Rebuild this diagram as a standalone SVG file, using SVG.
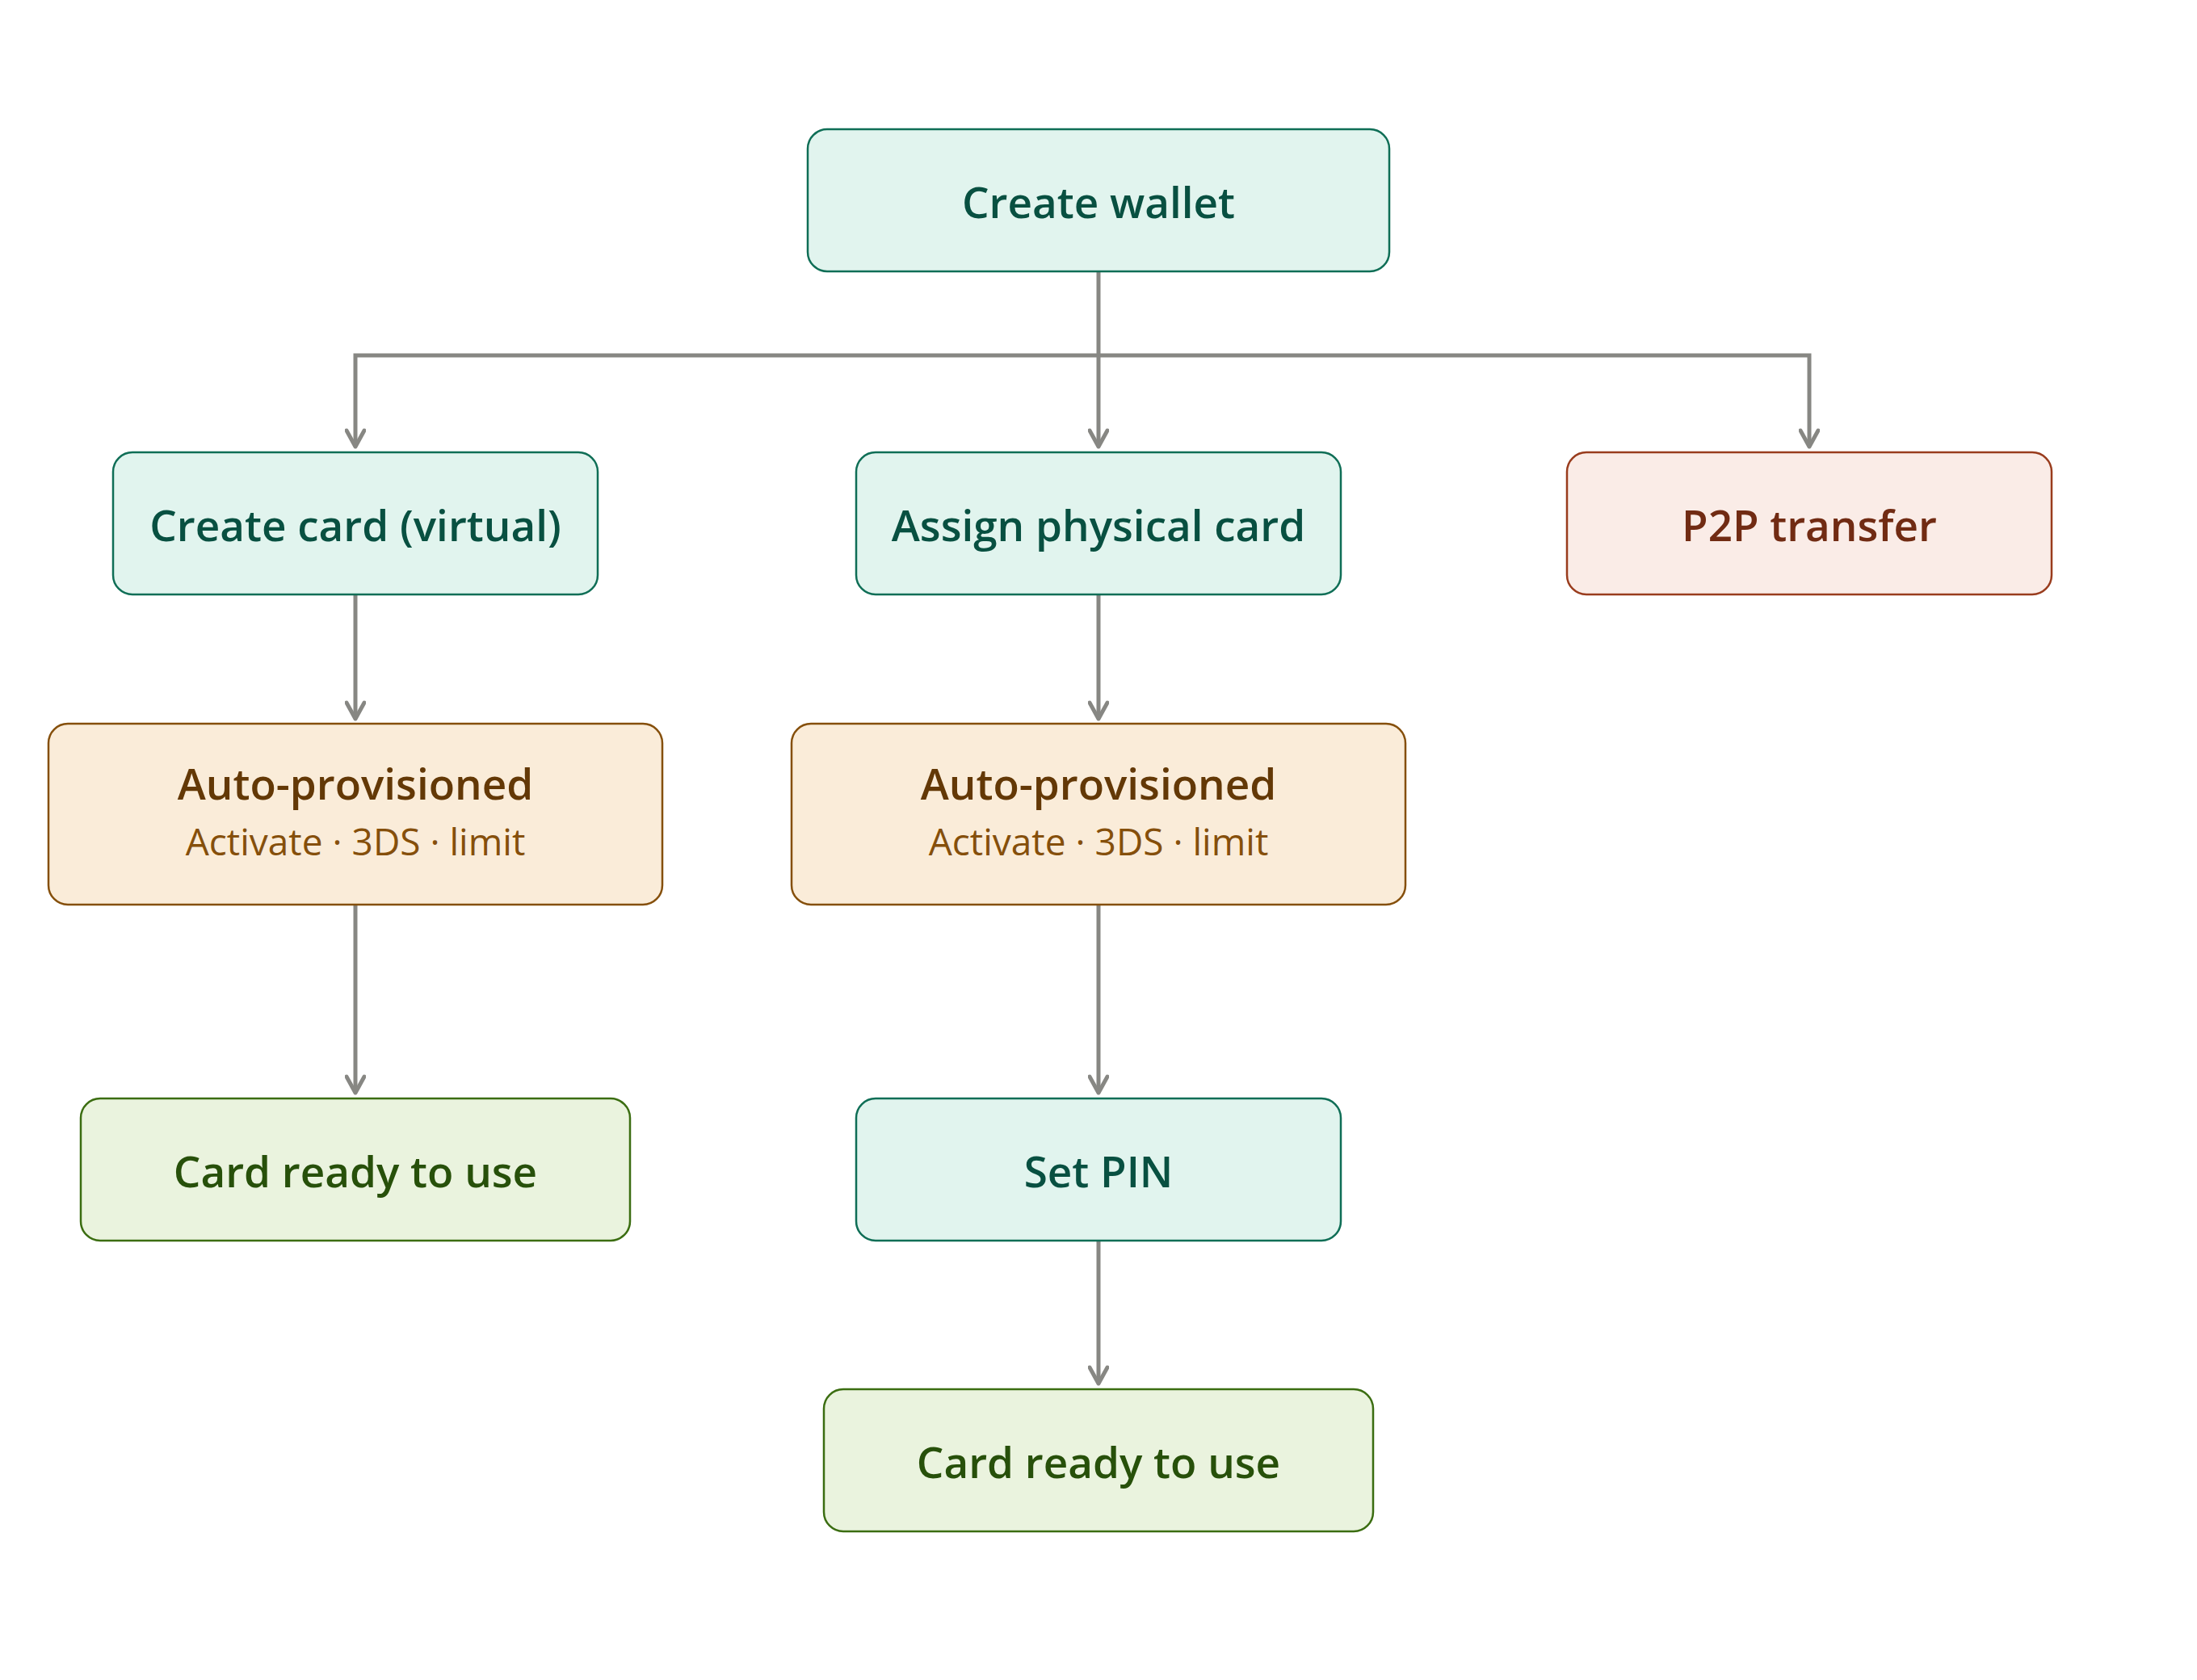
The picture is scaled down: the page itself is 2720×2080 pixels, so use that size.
<svg xmlns="http://www.w3.org/2000/svg" width="2720" height="2080" viewBox="0 0 2720 2080">
<style>
.box{stroke-width:2.5}
.teal{fill:#e1f4ee;stroke:#0f6e56}
.tealt{fill:#085041}
.orange{fill:#faecd9;stroke:#854f0b}
.oranget{fill:#633806}
.oranges{fill:#854f0b}
.green{fill:#eaf3de;stroke:#3b6d11}
.greent{fill:#27500a}
.red{fill:#faece7;stroke:#993c1d}
.redt{fill:#712b13}
text{font-family:"Open Sans","Noto Sans","Liberation Sans",sans-serif;text-anchor:middle}
.t{font-size:53px;font-weight:600}
.s{font-size:46px;font-weight:400}
.c{fill:none;stroke:#878783;stroke-width:5}
</style>
<defs>
<marker id="arr" viewBox="0 0 26 26" refX="23" refY="13" markerWidth="26" markerHeight="26" markerUnits="userSpaceOnUse" orient="auto">
<path d="M3,2 L23,13 L3,24" fill="none" stroke="#878783" stroke-width="5" stroke-linecap="round" stroke-linejoin="round"/>
</marker>
</defs>
<rect width="2720" height="2080" fill="#ffffff"/>
<g id="connectors">
<path class="c" d="M1360,335 V553" marker-end="url(#arr)"/>
<path class="c" d="M1360,440 H440 V553" marker-end="url(#arr)"/>
<path class="c" d="M1360,440 H2240 V553" marker-end="url(#arr)"/>
<path class="c" d="M440,735 V890" marker-end="url(#arr)"/>
<path class="c" d="M1360,735 V890" marker-end="url(#arr)"/>
<path class="c" d="M440,1120 V1353" marker-end="url(#arr)"/>
<path class="c" d="M1360,1120 V1353" marker-end="url(#arr)"/>
<path class="c" d="M1360,1536 V1713" marker-end="url(#arr)"/>
</g>
<g id="create-wallet">
<rect class="box teal" x="1000" y="160" width="720" height="176" rx="24"/>
<text class="t tealt" x="1360" y="270">Create wallet</text>
</g>
<g id="create-card-virtual">
<rect class="box teal" x="140" y="560" width="600" height="176" rx="24"/>
<text class="t tealt" x="440" y="670">Create card (virtual)</text>
</g>
<g id="assign-physical-card">
<rect class="box teal" x="1060" y="560" width="600" height="176" rx="24"/>
<text class="t tealt" x="1360" y="670">Assign physical card</text>
</g>
<g id="p2p-transfer">
<rect class="box red" x="1940" y="560" width="600" height="176" rx="24"/>
<text class="t redt" x="2240" y="670">P2P transfer</text>
</g>
<g id="auto-provisioned-virtual">
<rect class="box orange" x="60" y="896" width="760" height="224" rx="24"/>
<text class="t oranget" x="440" y="990">Auto-provisioned</text>
<text class="s oranges" x="440" y="1059">Activate · 3DS · limit</text>
</g>
<g id="auto-provisioned-physical">
<rect class="box orange" x="980" y="896" width="760" height="224" rx="24"/>
<text class="t oranget" x="1360" y="990">Auto-provisioned</text>
<text class="s oranges" x="1360" y="1059">Activate · 3DS · limit</text>
</g>
<g id="card-ready-virtual">
<rect class="box green" x="100" y="1360" width="680" height="176" rx="24"/>
<text class="t greent" x="440" y="1470">Card ready to use</text>
</g>
<g id="set-pin">
<rect class="box teal" x="1060" y="1360" width="600" height="176" rx="24"/>
<text class="t tealt" x="1360" y="1470">Set PIN</text>
</g>
<g id="card-ready-physical">
<rect class="box green" x="1020" y="1720" width="680" height="176" rx="24"/>
<text class="t greent" x="1360" y="1830">Card ready to use</text>
</g>
</svg>
